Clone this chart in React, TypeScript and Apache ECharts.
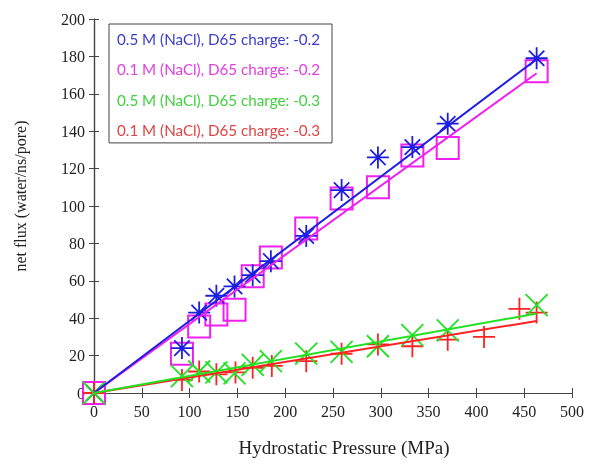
import React, { useEffect, useRef } from "react";
import * as echarts from "echarts";

// Hydrostatic pressure (MPa) of each simulation
const pressure = [0, 92, 110, 128, 147, 166, 185, 222, 259, 297, 333, 370, 463];
const redPressure = [0, 92, 110, 128, 148, 166, 186, 222, 259, 297, 333, 370, 408, 445, 463];

// net flux (water/ns/pore)
const blueFlux = [0, 24, 43, 52, 57, 63, 70.5, 84, 108.5, 126, 131.5, 144, 179];
const magentaFlux = [0, 21, 35.5, 42, 44.5, 62.5, 72.5, 88, 104, 110, 127, 131, 172];
const greenFlux = [0, 9, 11.5, 11, 10.5, 15, 17, 21, 22, 25, 31, 33.5, 47];
const redFlux = [0, 7, 11.5, 10, 11, 13.5, 14.5, 17, 21, 26, 25, 28.5, 30, 45, 43];

// linear fits: [pressure, flux] end points
const blueFit = [[0, 0], [463, 178.5]];
const magentaFit = [[0, 0], [463, 171]];
const greenFit = [[0, 0], [463, 42.5]];
const redFit = [[0, 0], [463, 38.5]];

const seriesNames = [
  "0.5 M (NaCl), D65 charge: -0.2",
  "0.1 M (NaCl), D65 charge: -0.2",
  "0.5 M (NaCl), D65 charge: -0.3",
  "0.1 M (NaCl), D65 charge: -0.3",
];
const legendColors = ["#3c3cc8", "#e040e0", "#40d040", "#e04444"];
const seriesColors = ["#1e1ee0", "#f020f0", "#22e022", "#ff2222"];

const xTicks = { min: 0, max: 500, interval: 50 };
const yTicks = { min: 0, max: 200, interval: 20 };

const ASTERISK = "path://M10,0L10,20M0,10L20,10M3,3L17,17M17,3L3,17";
const CROSS = "path://M0,0L20,20M20,0L0,20";
const PLUS = "path://M10,0L10,20M0,10L20,10";

const zip = (xs: number[], ys: number[]) => xs.map((x, i) => [x, ys[i]]);

export default function App() {
  const ref = useRef<HTMLDivElement>(null);
  useEffect(() => {
    if (!ref.current) return;
    const chart = echarts.init(ref.current, null, { renderer: "svg" });
    const frame = { lineStyle: { color: "#444", width: 1.2 } };
    const tick = { inside: true, length: 5, lineStyle: { color: "#444", width: 1 } };
    const serif = "'Liberation Serif', 'DejaVu Serif', serif";
    const scatter = (i: number, data: number[][], symbol: string, size: number, bw: number) => ({
      type: "scatter",
      name: seriesNames[i],
      data,
      symbol,
      symbolSize: size,
      itemStyle: { color: "none", borderColor: seriesColors[i], borderWidth: bw, opacity: 1 },
      z: 3,
    });
    const fit = (i: number, data: number[][]) => ({
      type: "line",
      name: seriesNames[i],
      data,
      showSymbol: false,
      lineStyle: { color: seriesColors[i], width: 2 },
      z: 4,
    });
    chart.setOption({
      animation: false,
      grid: { left: 94, right: 28, top: 19, bottom: 79, containLabel: false },
      xAxis: [
        {
          type: "value",
          ...xTicks,
          axisLine: frame,
          axisTick: tick,
          splitLine: { show: false },
          axisLabel: { fontFamily: serif, fontSize: 16, color: "#222", margin: 10 },
        },
        {
          type: "value",
          position: "top",
          ...xTicks,
          axisLine: frame,
          axisTick: tick,
          splitLine: { show: false },
          axisLabel: { show: false },
        },
      ],
      yAxis: [
        {
          type: "value",
          ...yTicks,
          axisLine: frame,
          axisTick: tick,
          splitLine: { show: false },
          axisLabel: { fontFamily: serif, fontSize: 16, color: "#222", margin: 9 },
        },
        {
          type: "value",
          position: "right",
          ...yTicks,
          axisLine: frame,
          axisTick: tick,
          splitLine: { show: false },
          axisLabel: { show: false },
        },
      ],
      legend: {
        show: true,
        left: 109,
        top: 24,
        orient: "vertical",
        selectedMode: false,
        itemWidth: 0,
        itemHeight: 18,
        itemGap: 12.3,
        padding: [6, 12, 4, 3],
        borderColor: "#444",
        borderWidth: 1,
        backgroundColor: "#fff",
        data: seriesNames.map((name, i) => ({
          name,
          icon: "none",
          textStyle: { color: legendColors[i], fontFamily: "Lato, 'Open Sans', sans-serif", fontSize: 15.2, lineHeight: 18 },
        })),
      },
      graphic: [
        {
          type: "text",
          x: 344,
          y: 447,
          style: {
            text: "Hydrostatic Pressure (MPa)",
            font: `19px ${serif}`,
            fill: "#222",
            textAlign: "center",
            textVerticalAlign: "middle",
          },
        },
        {
          type: "text",
          x: 20,
          y: 196,
          rotation: Math.PI / 2,
          style: {
            text: "net flux (water/ns/pore)",
            font: `16px ${serif}`,
            fill: "#222",
            textAlign: "center",
            textVerticalAlign: "middle",
          },
        },
      ],
      series: [
        scatter(1, zip(pressure, magentaFlux), "rect", 22, 2),
        fit(1, magentaFit),
        scatter(0, zip(pressure, blueFlux), ASTERISK, 22, 1.8),
        fit(0, blueFit),
        scatter(3, zip(redPressure, redFlux), PLUS, 22, 1.8),
        fit(3, redFit),
        scatter(2, zip(pressure, greenFlux), CROSS, 22, 1.8),
        fit(2, greenFit),
      ],
    });
    return () => chart.dispose();
  }, []);
  return <div ref={ref} style={{ position: "fixed", left: 0, top: 0, width: 600, height: 472 }} />;
}
